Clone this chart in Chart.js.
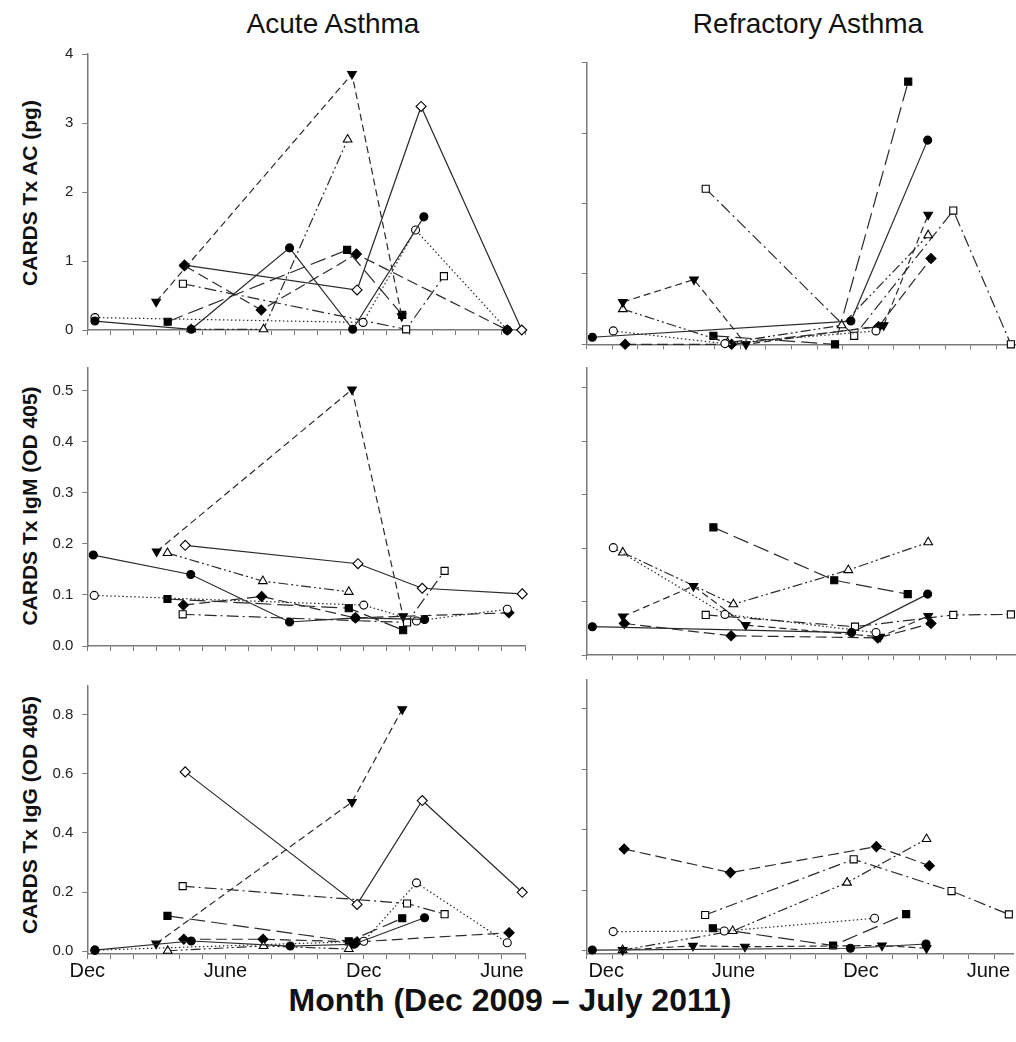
<!DOCTYPE html>
<html>
<head>
<meta charset="utf-8">
<script src="https://cdn.jsdelivr.net/npm/chart.js@4.4.0/dist/chart.umd.min.js"></script>
<style>
  body { margin: 0; background: #fff; font-family: "Liberation Sans", Arial, sans-serif; }
  #page { position: relative; width: 1016px; height: 1042px; overflow: hidden; background: #fff; }
  canvas { position: absolute; }
  .title { position: absolute; top: 10px; font-size: 28px; line-height: 1; color: #111; white-space: nowrap; transform: translateX(-50%); }
  .ytitle { position: absolute; left: 30px; font-size: 21px; font-weight: bold; color: #111; white-space: nowrap; transform: translate(-50%, -50%) rotate(-90deg); }
  .xtitle { position: absolute; left: 510px; top: 983px; font-size: 32px; font-weight: bold; line-height: 1.1; color: #111; white-space: nowrap; transform: translateX(-50%); }
</style>
</head>
<body>
<div id="page">
  <div class="title" style="left:333px">Acute Asthma</div>
  <div class="title" style="left:808px">Refractory Asthma</div>
  <div class="ytitle" style="top:193px">CARDS Tx AC (pg)</div>
  <div class="ytitle" style="top:506px">CARDS Tx IgM (OD 405)</div>
  <div class="ytitle" style="top:815px">CARDS Tx IgG (OD 405)</div>
  <div class="xtitle">Month (Dec 2009 – July 2011)</div>
  <canvas id="acuteAC"></canvas>
  <canvas id="refrAC"></canvas>
  <canvas id="acuteIgM"></canvas>
  <canvas id="refrIgM"></canvas>
  <canvas id="acuteIgG"></canvas>
  <canvas id="refrIgG"></canvas>
</div>
<script>
// x tick labels (acute: months since Dec 2009; refractory: its own monthly tick index)
const acuteTickPos = [0, 6, 12, 18]
const refrTickPos = [1, 6, 11, 16]
const tickNames = ['Dec', 'June', 'Dec', 'June']

// Acute asthma - CARDS Tx AC (pg)   [month, value]
const acAcFilledCircle = [[0.33, 0.13], [4.51, 0.01], [8.78, 1.19], [11.52, 0.01], [14.61, 1.64], [16.5, null], [18.23, 0.0]]
const acAcOpenCircle = [[0.33, 0.18], [11.97, 0.11], [14.25, 1.45], [18.23, 0.0]]
const acAcFilledTri = [[2.99, 0.41], [11.49, 3.71], [13.65, 0.2]]
const acAcOpenTri = [[4.51, 0.01], [7.65, 0.01], [11.30, 2.76]]
const acAcFilledSq = [[3.49, 0.12], [11.28, 1.16], [13.67, 0.22]]
const acAcOpenSq = [[4.15, 0.67], [13.84, 0.01], [15.48, 0.78]]
const acAcFilledDia = [[4.22, 0.93], [7.55, 0.29], [11.68, 1.10], [18.23, 0.0]]
const acAcOpenDia = [[4.22, 0.94], [11.71, 0.58], [14.49, 3.24], [18.86, 0.0]]

// Acute asthma - CARDS Tx IgM (OD 405)
const acIgmFilledCircle = [[0.26, 0.178], [4.49, 0.140], [8.78, 0.047], [11.64, 0.055], [14.64, 0.052]]
const acIgmOpenCircle = [[0.30, 0.099], [12.0, 0.080], [14.29, 0.049], [18.23, 0.072]]
const acIgmFilledTri = [[3.01, 0.185], [11.49, 0.502], [13.71, 0.058]]
const acIgmOpenTri = [[3.48, 0.182], [7.62, 0.127], [11.35, 0.106]]
const acIgmFilledSq = [[3.48, 0.092], [11.35, 0.074], [13.71, 0.031]]
const acIgmOpenSq = [[4.14, 0.062], [13.88, 0.046], [15.51, 0.147]]
const acIgmFilledDia = [[4.17, 0.080], [7.57, 0.097], [11.64, 0.055], [18.3, 0.065]]
const acIgmOpenDia = [[4.25, 0.197], [11.75, 0.161], [14.54, 0.113], [18.88, 0.102]]

// Acute asthma - CARDS Tx IgG (OD 405)
const acIggFilledCircle = [[0.33, 0.003], [4.51, 0.034], [8.81, 0.017], [11.57, 0.023], [14.64, 0.113]]
const acIggOpenCircle = [[0.33, 0.003], [12.0, 0.033], [14.29, 0.231], [18.23, 0.028]]
const acIggFilledTri = [[2.99, 0.025], [11.49, 0.505], [13.67, 0.819]]
const acIggOpenTri = [[3.49, 0.001], [7.65, 0.017], [11.35, 0.007]]
const acIggFilledSq = [[3.48, 0.119], [11.35, 0.033], [13.67, 0.111]]
const acIggOpenSq = [[4.14, 0.220], [13.88, 0.161], [15.51, 0.125]]
const acIggFilledDia = [[4.19, 0.040], [7.63, 0.040], [11.71, 0.031], [18.31, 0.062]]
const acIggOpenDia = [[4.25, 0.607], [11.71, 0.158], [14.54, 0.510], [18.88, 0.199]]

// Refractory asthma - CARDS Tx AC (pg)   [tick index, value]
const rfAcFilledCircle = [[0.22, 0.10], [10.32, 0.33], [13.32, 2.90]]
const rfAcOpenCircle = [[1.04, 0.19], [5.40, 0.01], [11.3, 0.19]]
const rfAcFilledTri = [[1.41, 0.60], [4.19, 0.92], [6.22, 0.0], [11.6, 0.27], [13.34, 1.84]]
const rfAcOpenTri = [[1.41, 0.50], [5.5, 0.02], [9.96, 0.27], [13.34, 1.55]]
const rfAcFilledSq = [[4.95, 0.12], [9.70, 0.0], [12.56, 3.73]]
const rfAcOpenSq = [[4.65, 2.21], [10.45, 0.12], [14.32, 1.90], [16.57, 0.0]]
const rfAcFilledDia = [[1.50, 0.0], [5.66, 0.0], [11.4, 0.25], [13.45, 1.22]]

// Refractory asthma - CARDS Tx IgM (OD 405)
const rfIgmFilledCircle = [[0.22, 0.053], [10.35, 0.042], [13.32, 0.114]]
const rfIgmOpenCircle = [[1.04, 0.201], [5.40, 0.076], [11.3, 0.042]]
const rfIgmFilledTri = [[1.41, 0.072], [4.17, 0.129], [6.21, 0.056], [11.46, 0.034], [13.34, 0.073]]
const rfIgmOpenTri = [[1.41, 0.192], [5.73, 0.095], [10.22, 0.159], [13.34, 0.211]]
const rfIgmFilledSq = [[4.95, 0.239], [9.67, 0.140], [12.54, 0.114]]
const rfIgmOpenSq = [[4.65, 0.075], [10.48, 0.053], [14.32, 0.075], [16.57, 0.076]]
const rfIgmFilledDia = [[1.47, 0.059], [5.64, 0.036], [11.37, 0.032], [13.45, 0.059]]

// Refractory asthma - CARDS Tx IgG (OD 405)
const rfIggFilledCircle = [[0.22, 0.003], [10.35, 0.009], [13.32, 0.023]]
const rfIggOpenCircle = [[1.04, 0.064], [5.40, 0.066], [11.3, 0.108]]
const rfIggFilledTri = [[1.41, 0.003], [4.17, 0.017], [6.21, 0.014], [11.59, 0.018], [13.34, 0.009]]
const rfIggOpenTri = [[1.41, 0.003], [5.73, 0.066], [10.22, 0.226], [13.34, 0.370]]
const rfIggFilledSq = [[4.95, 0.075], [9.67, 0.018], [12.54, 0.122]]
const rfIggOpenSq = [[4.65, 0.119], [10.48, 0.303], [14.32, 0.198], [16.57, 0.121]]
const rfIggFilledDia = [[1.47, 0.337], [5.64, 0.259], [11.37, 0.345], [13.45, 0.282]]

// marker + line style per patient symbol (SigmaPlot style order)
const seriesStyles = [
  { point: 'circle', radius: 4, rot: 0, filled: true, dash: [] },
  { point: 'circle', radius: 4, rot: 0, filled: false, dash: [1.5, 2.5] },
  { point: 'triangle', radius: 5, rot: 180, filled: true, dash: [7, 4] },
  { point: 'triangle', radius: 5, rot: 0, filled: false, dash: [10, 3, 2, 3, 2, 3] },
  { point: 'rect', radius: 5, rot: 0, filled: true, dash: [16, 6] },
  { point: 'rect', radius: 5, rot: 0, filled: false, dash: [12, 4, 2, 4] },
  { point: 'rectRot', radius: 5, rot: 0, filled: true, dash: [11, 5] },
  { point: 'rectRot', radius: 5, rot: 0, filled: false, dash: [] }
]

const FONT = "'Liberation Sans', Arial, sans-serif"
const axisColor = '#7a7a7a'

function makeDatasets(seriesList) {
  return seriesList.map((data, i) => {
    const st = seriesStyles[i]
    return {
      data: data,
      borderColor: '#2a2a2a',
      borderWidth: 1.2,
      borderDash: st.dash,
      fill: false,
      tension: 0,
      clip: false,
      pointStyle: st.point,
      pointRotation: st.rot,
      pointRadius: st.radius,
      pointBackgroundColor: st.filled ? '#000' : '#fff',
      pointBorderColor: '#000',
      pointBorderWidth: 1.1
    }
  })
}

function makePanel(id, seriesList, cfg) {
  const canvas = document.getElementById(id)
  canvas.width = cfg.width
  canvas.height = cfg.bottom - cfg.top
  canvas.style.left = cfg.left + 'px'
  canvas.style.top = cfg.top + 'px'

  new Chart(canvas, {
    type: 'line',
    data: { datasets: makeDatasets(seriesList) },
    options: {
      responsive: false,
      animation: false,
      events: [],
      layout: { autoPadding: false, padding: { left: 0, right: cfg.padRight, top: cfg.areaTop - cfg.top, bottom: 0 } },
      plugins: { legend: { display: false }, tooltip: { enabled: false } },
      scales: {
        x: {
          type: 'linear',
          min: 0,
          max: cfg.xMax,
          ticks: {
            stepSize: 1,
            includeBounds: false,
            autoSkip: false,
            maxRotation: 0,
            display: cfg.xLabels,
            padding: 0,
            labelOffset: cfg.labelOffset,
            color: '#111',
            font: { size: 20, family: FONT },
            callback: (v) => {
              const k = cfg.tickPos.indexOf(Math.round(v))
              return k >= 0 ? tickNames[k] : ''
            }
          },
          grid: { drawOnChartArea: false, drawTicks: true, tickLength: 5, color: axisColor, lineWidth: 1 },
          border: { display: true, color: axisColor, width: 1.5 },
          afterFit: (s) => { s.height = cfg.bottom - cfg.areaBottom }
        },
        y: {
          min: cfg.yMin,
          max: cfg.yMax,
          ticks: {
            stepSize: cfg.yStep,
            includeBounds: false,
            display: cfg.yLabels,
            padding: 9,
            color: '#222',
            font: { size: 15, family: FONT },
            callback: (v) => v.toFixed(cfg.yDigits)
          },
          grid: { drawOnChartArea: false, drawTicks: true, tickLength: 5, color: axisColor, lineWidth: 1 },
          border: { display: true, color: axisColor, width: 1.5 },
          afterFit: (s) => { s.width = cfg.yWidth }
        }
      }
    }
  })
}

const leftCol = { left: 0, width: 530, padRight: 5, yWidth: 87.3, xMax: 19, tickPos: acuteTickPos, labelOffset: 0, yLabels: true }
const rightCol = { left: 540, width: 476, padRight: 0, yWidth: 46.7, xMax: 16.77, tickPos: refrTickPos, labelOffset: -6, yLabels: false }

makePanel('acuteAC',
  [acAcFilledCircle, acAcOpenCircle, acAcFilledTri, acAcOpenTri, acAcFilledSq, acAcOpenSq, acAcFilledDia, acAcOpenDia],
  { ...leftCol, top: 36, bottom: 348, areaTop: 49.3, areaBottom: 337.7, yMin: 0, yMax: 4, yStep: 1, yDigits: 0, xLabels: false })
makePanel('refrAC',
  [rfAcFilledCircle, rfAcOpenCircle, rfAcFilledTri, rfAcOpenTri, rfAcFilledSq, rfAcOpenSq, rfAcFilledDia],
  { ...rightCol, top: 36, bottom: 354, areaTop: 62.7, areaBottom: 344.3, yMin: 0, yMax: 4, yStep: 1, yDigits: 0, xLabels: false })

makePanel('acuteIgM',
  [acIgmFilledCircle, acIgmOpenCircle, acIgmFilledTri, acIgmOpenTri, acIgmFilledSq, acIgmOpenSq, acIgmFilledDia, acIgmOpenDia],
  { ...leftCol, top: 350, bottom: 664, areaTop: 360.7, areaBottom: 655, yMin: 0, yMax: 0.544, yStep: 0.1, yDigits: 1, xLabels: false })
makePanel('refrIgM',
  [rfIgmFilledCircle, rfIgmOpenCircle, rfIgmFilledTri, rfIgmOpenTri, rfIgmFilledSq, rfIgmOpenSq, rfIgmFilledDia],
  { ...rightCol, top: 350, bottom: 664, areaTop: 367.7, areaBottom: 655, yMin: 0, yMax: 0.538, yStep: 0.1, yDigits: 1, xLabels: false })

makePanel('acuteIgG',
  [acIggFilledCircle, acIggOpenCircle, acIggFilledTri, acIggOpenTri, acIggFilledSq, acIggOpenSq, acIggFilledDia, acIggOpenDia],
  { ...leftCol, top: 668, bottom: 990, areaTop: 679.3, areaBottom: 954, yMin: -0.01, yMax: 0.898, yStep: 0.2, yDigits: 1, xLabels: true })
makePanel('refrIgG',
  [rfIggFilledCircle, rfIggOpenCircle, rfIggFilledTri, rfIggOpenTri, rfIggFilledSq, rfIggOpenSq, rfIggFilledDia],
  { ...rightCol, top: 668, bottom: 990, areaTop: 679.3, areaBottom: 954, yMin: -0.01, yMax: 0.898, yStep: 0.2, yDigits: 1, xLabels: true })
</script>
</body>
</html>
